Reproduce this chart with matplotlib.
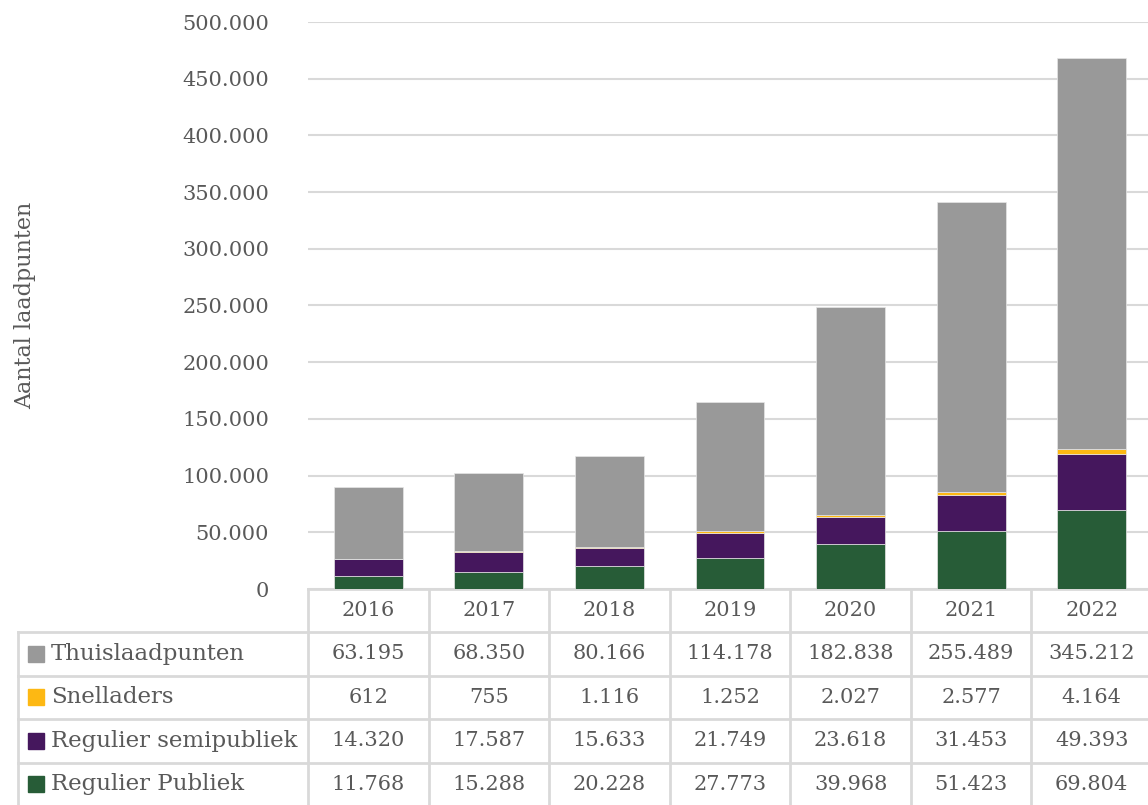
import matplotlib.pyplot as plt
from matplotlib.ticker import FuncFormatter

years = ['2016', '2017', '2018', '2019', '2020', '2021', '2022']
regulier_publiek = [11768, 15288, 20228, 27773, 39968, 51423, 69804]
regulier_semipubliek = [14320, 17587, 15633, 21749, 23618, 31453, 49393]
snelladers = [612, 755, 1116, 1252, 2027, 2577, 4164]
thuislaadpunten = [63195, 68350, 80166, 114178, 182838, 255489, 345212]

series = [
    ('Regulier Publiek', regulier_publiek, '#275C37'),
    ('Regulier semipubliek', regulier_semipubliek, '#45175D'),
    ('Snelladers', snelladers, '#FDB813'),
    ('Thuislaadpunten', thuislaadpunten, '#999999'),
]

W, H = 1148, 805
txt = '#595959'
line = '#D9D9D9'
font = 'DejaVu Serif'

fig = plt.figure(figsize=(W / 100, H / 100), dpi=100)
# plot area in pixels
left, right, top, bottom = 308, 1152, 22, 589
ax = fig.add_axes([left / W, 1 - bottom / H, (right - left) / W, (bottom - top) / H])

x = range(len(years))
base = [0] * len(years)
for name, vals, col in series:
    ax.bar(x, vals, 0.57, bottom=base, color=col, edgecolor='#E6E6E6', linewidth=0.5, zorder=3)
    base = [b + v for b, v in zip(base, vals)]

ax.set_xlim(-0.5, len(years) - 0.5)
ax.set_ylim(0, 500000)
ax.set_yticks(range(0, 500001, 50000))
ax.yaxis.set_major_formatter(FuncFormatter(lambda v, p: f'{int(v):,}'.replace(',', '.')))
ax.tick_params(axis='y', length=0, pad=28, labelsize=15, labelcolor=txt)
for lab in ax.get_yticklabels():
    lab.set_family(font)
ax.set_xticks([])
ax.grid(axis='y', color=line, linewidth=1.5, zorder=0)
for s in ['top', 'right', 'left']:
    ax.spines[s].set_visible(False)
ax.spines['bottom'].set_color(line)
ax.spines['bottom'].set_linewidth(2)

fig.text(25 / W, 1 - 305 / H, 'Aantal laadpunten', rotation=90, ha='center', va='center',
         fontsize=16, color=txt, family=font)


# data table under the chart
def fx(px):
    return px / W


def fy(py):
    return 1 - py / H


col_w = (right - left) / len(years)
label_left = 18
header_bot = 632
row_h = 43.5
rows = list(reversed(series))
table_bottom = header_bot + row_h * len(rows)

kw = dict(color=line, linewidth=2, transform=fig.transFigure, clip_on=False)
for k in range(len(years) + 1):
    xp = left + k * col_w
    fig.add_artist(plt.Line2D([fx(xp), fx(xp)], [fy(bottom), fy(table_bottom)], **kw))
fig.add_artist(plt.Line2D([fx(label_left), fx(label_left)], [fy(header_bot), fy(table_bottom)], **kw))
for r in range(len(rows) + 1):
    yp = header_bot + r * row_h
    fig.add_artist(plt.Line2D([fx(label_left), fx(right)], [fy(yp), fy(yp)], **kw))

for k, yr in enumerate(years):
    xc = left + (k + 0.5) * col_w
    fig.text(fx(xc), fy((bottom + header_bot) / 2), yr, ha='center', va='center',
             fontsize=15, color=txt, family=font)

for r, (name, vals, col) in enumerate(rows):
    yc = header_bot + (r + 0.5) * row_h
    fig.add_artist(plt.Rectangle((fx(28), fy(yc + 8)), 16 / W, 16 / H, color=col,
                                 transform=fig.transFigure))
    fig.text(fx(51), fy(yc), name, ha='left', va='center', fontsize=16.5, color=txt, family=font)
    for k, v in enumerate(vals):
        xc = left + (k + 0.5) * col_w
        fig.text(fx(xc), fy(yc), f'{v:,}'.replace(',', '.'), ha='center', va='center',
                 fontsize=15, color=txt, family=font)

fig.savefig('out.png', dpi=100)
